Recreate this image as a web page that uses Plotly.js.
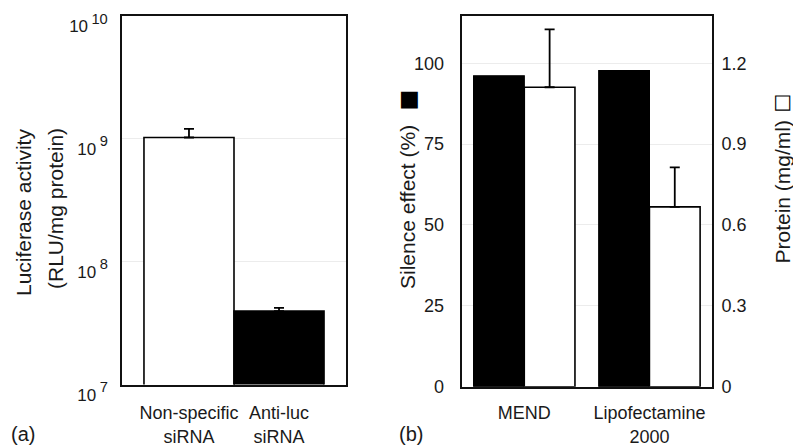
<!DOCTYPE html>
<html>
<head>
<meta charset="utf-8">
<script src="https://cdn.plot.ly/plotly-3.0.1.min.js"></script>
<style>html,body{margin:0;padding:0;background:#fff;}#chart{width:793px;height:446px;}</style>
</head>
<body>
<div id="chart"></div>
<script>
// ---- Data ----
const leftCategories = ["Non-specific<br>siRNA", "Anti-luc<br>siRNA"];
const luciferaseValues = [1.025e9, 3.96e7];
const luciferaseErrors = [0.18e9, 0.25e7];
const leftTickVals = [1e7, 1e8, 1e9, 1e10];
const leftTickExponents = ["7", "8", "9", "10"];

const rightCategories = ["MEND", "Lipofectamine<br>2000"];
const silenceEffect = [96.1, 97.7];
const proteinValues = [1.111, 0.667];
const proteinErrors = [0.215, 0.147];
const silenceTickVals = [0, 25, 50, 75, 100];
const proteinTickVals = [0, 0.3, 0.6, 0.9, 1.2];
const proteinTickText = ["0", "0.3", "0.6", "0.9", "1.2"];

const W = 793, H = 446;
const px = v => v / W;
const py = v => 1 - v / H;
const FONT = "Liberation Sans, Arial, Helvetica, sans-serif";
const TXT = "#1a1a1a";

const leftTickText = leftTickExponents.map(e => "<span style='font-size:17px'>10\u2009</span><sup>" + e + "</sup>");

const traces = [
  {
    type: "bar", x: leftCategories, y: luciferaseValues,
    xaxis: "x", yaxis: "y", width: 1,
    marker: {color: ["#ffffff", "#000000"], line: {color: "#000", width: 1.6}},
    error_y: {type: "data", array: luciferaseErrors, arrayminus: [0, 0], symmetric: false,
              color: "#000", thickness: 1.8, width: 5},
    showlegend: false, hoverinfo: "none"
  },
  {
    type: "bar", x: rightCategories, y: silenceEffect,
    xaxis: "x2", yaxis: "y2", width: 0.405, offset: -0.405,
    marker: {color: "#000000", line: {color: "#000", width: 1.2}},
    showlegend: false, hoverinfo: "none"
  },
  {
    type: "bar", x: rightCategories, y: proteinValues,
    xaxis: "x2", yaxis: "y3", width: 0.405, offset: 0,
    marker: {color: "#ffffff", line: {color: "#000", width: 1.6}},
    error_y: {type: "data", array: proteinErrors, arrayminus: [0, 0], symmetric: false,
              color: "#000", thickness: 1.8, width: 5},
    showlegend: false, hoverinfo: "none"
  }
];

const axisBase = {
  showline: true, linecolor: "#111", linewidth: 2, ticks: "",
  tickfont: {family: FONT, size: 18, color: TXT}, zeroline: false, fixedrange: true
};

const layout = {
  width: W, height: H,
  margin: {l: 0, r: 0, t: 0, b: 0},
  paper_bgcolor: "#fff", plot_bgcolor: "rgba(0,0,0,0)",
  font: {family: FONT, color: TXT},
  barmode: "overlay",
  xaxis: Object.assign({}, axisBase, {
    domain: [px(122), px(346)], anchor: "y", range: [-0.744, 1.744],
    mirror: true, showgrid: false, ticklabelstandoff: 11
  }),
  yaxis: Object.assign({}, axisBase, {
    domain: [py(384.5), py(16)], anchor: "x", type: "log", range: [7, 10],
    tickvals: leftTickVals, ticktext: leftTickText, mirror: true,
    showgrid: true, gridcolor: "#ececec", gridwidth: 1,
    tickfont: {family: FONT, size: 21, color: TXT}, ticklabelstandoff: 8, ticklabelshift: 9
  }),
  xaxis2: Object.assign({}, axisBase, {
    domain: [px(461.7), px(712)], anchor: "y2", range: [-0.5, 1.5],
    mirror: true, showgrid: false, ticklabelstandoff: 9
  }),
  yaxis2: Object.assign({}, axisBase, {
    domain: [py(386.7), py(15.7)], anchor: "x2", range: [0, 114.7],
    tickvals: silenceTickVals, showgrid: true, gridcolor: "#ececec", gridwidth: 1,
    ticklabelstandoff: 12
  }),
  yaxis3: Object.assign({}, axisBase, {
    domain: [py(386.7), py(15.7)], anchor: "x2", overlaying: "y2", side: "right",
    range: [0, 114.7 * 1.2 / 100], tickvals: proteinTickVals, ticktext: proteinTickText,
    showgrid: false, ticklabelstandoff: 4
  }),
  annotations: [
    {text: "Luciferase activity", x: px(24), y: py(213), xref: "paper", yref: "paper",
     textangle: -90, showarrow: false, xanchor: "center", yanchor: "middle",
     font: {family: FONT, size: 21, color: TXT}},
    {text: "(RLU/mg protein)", x: px(55), y: py(209), xref: "paper", yref: "paper",
     textangle: -90, showarrow: false, xanchor: "center", yanchor: "middle",
     font: {family: FONT, size: 21, color: TXT}},
    {text: "Silence effect (%)", x: px(407.5), y: py(206.5), xref: "paper", yref: "paper",
     textangle: -90, showarrow: false, xanchor: "center", yanchor: "middle",
     font: {family: FONT, size: 21, color: TXT}},
    {text: "■", x: px(407), y: py(100.5), xref: "paper", yref: "paper",
     textangle: -90, showarrow: false, xanchor: "center", yanchor: "middle",
     font: {family: "DejaVu Sans", size: 22, color: "#000"}},
    {text: "Protein (mg/ml)", x: px(782), y: py(191.5), xref: "paper", yref: "paper",
     textangle: -90, showarrow: false, xanchor: "center", yanchor: "middle",
     font: {family: FONT, size: 21, color: TXT}},
    {text: "□", x: px(781), y: py(103.5), xref: "paper", yref: "paper",
     textangle: -90, showarrow: false, xanchor: "center", yanchor: "middle",
     font: {family: "DejaVu Sans", size: 20, color: "#000"}},
    {text: "(a)", x: px(23), y: py(434), xref: "paper", yref: "paper",
     showarrow: false, xanchor: "center", yanchor: "middle",
     font: {family: FONT, size: 20, color: TXT}},
    {text: "(b)", x: px(411), y: py(434), xref: "paper", yref: "paper",
     showarrow: false, xanchor: "center", yanchor: "middle",
     font: {family: FONT, size: 20, color: TXT}}
  ]
};

Plotly.newPlot("chart", traces, layout, {staticPlot: true, displayModeBar: false});
</script>
</body>
</html>
